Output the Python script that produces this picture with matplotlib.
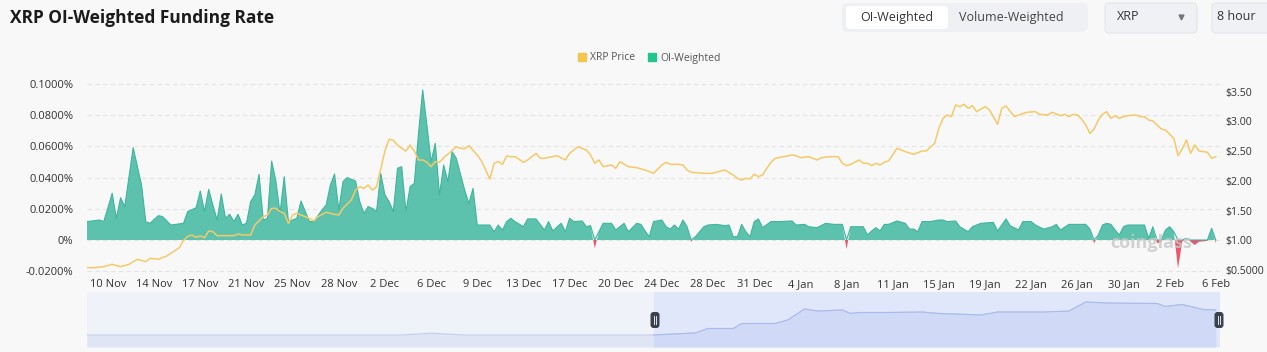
import numpy as np
import matplotlib
matplotlib.use("Agg")
import matplotlib.pyplot as plt
from matplotlib.patches import FancyBboxPatch, Patch

plt.rcParams['font.family'] = ['Open Sans', 'DejaVu Sans']

# ---------------- data (8-hour periods since start) ----------------
tick_idx = list(range(5, 270, 11))
tick_labels = ['10 Nov', '14 Nov', '17 Nov', '21 Nov', '25 Nov', '28 Nov', '2 Dec', '6 Dec',
               '9 Dec', '13 Dec', '17 Dec', '20 Dec', '24 Dec', '28 Dec', '31 Dec', '4 Jan',
               '8 Jan', '11 Jan', '15 Jan', '19 Jan', '22 Jan', '26 Jan', '30 Jan', '2 Feb', '6 Feb']

# OI-weighted funding rate (%)
fund_idx = [0, 3, 4, 6, 7, 8, 9, 11, 13, 14, 15, 17, 18, 20, 23, 24, 26, 27, 28, 29,
            30, 31, 32, 33, 34, 35, 36, 37, 38, 39, 40, 41, 42, 43, 44, 45, 46, 47, 48, 50,
            51, 53, 54, 56, 57, 58, 59, 60, 61, 62, 64, 65, 66, 67, 68, 69, 70, 71, 72, 73,
            74, 75, 76, 77, 78, 79, 80, 81, 82, 83, 84, 85, 86, 87, 88, 90, 91, 92, 93, 96,
            97, 98, 99, 100, 101, 102, 104, 105, 107, 109, 110, 111, 113, 114, 115, 116, 118, 119, 120, 121,
            122, 123, 125, 126, 128, 129, 131, 132, 133, 134, 135, 137, 138, 139, 140, 141, 142, 143, 144, 145,
            147, 148, 150, 152, 153, 154, 155, 156, 157, 158, 159, 160, 161, 163, 165, 168, 169, 171, 172, 174,
            176, 178, 180, 181, 182, 185, 186, 187, 188, 189, 190, 191, 193, 195, 196, 197, 198, 199, 201, 203,
            204, 205, 207, 208, 210, 211, 213, 216, 217, 219, 220, 222, 223, 225, 226, 228, 230, 231, 232, 234,
            238, 239, 240, 241, 242, 243, 244, 245, 246, 247, 248, 252, 253, 254, 255, 256, 257, 258, 259, 260,
            261, 262, 263, 264, 265, 267, 268, 269]
fund_val = [0.0118, 0.0128, 0.0118, 0.0299, 0.0139, 0.0271, 0.0214, 0.0592, 0.0353, 0.0118,
            0.0107, 0.0156, 0.0150, 0.0096, 0.0107, 0.0182, 0.0207, 0.0314, 0.0182, 0.0325,
            0.0224, 0.0128, 0.0295, 0.0139, 0.0165, 0.0118, 0.0165, 0.0096, 0.0107, 0.0246,
            0.0289, 0.0421, 0.0128, 0.0139, 0.0506, 0.0380, 0.0171, 0.0406, 0.0118, 0.0139,
            0.0250, 0.0118, 0.0118, 0.0192, 0.0224, 0.0353, 0.0423, 0.0192, 0.0374, 0.0400,
            0.0378, 0.0246, 0.0171, 0.0214, 0.0203, 0.0182, 0.0427, 0.0288, 0.0246, 0.0182,
            0.0460, 0.0470, 0.0182, 0.0342, 0.0363, 0.0684, 0.0962, 0.0737, 0.0502, 0.0620,
            0.0288, 0.0481, 0.0374, 0.0566, 0.0524, 0.0320, 0.0235, 0.0331, 0.0096, 0.0096,
            0.0053, 0.0096, 0.0064, 0.0118, 0.0139, 0.0118, 0.0085, 0.0135, 0.0135, 0.0064,
            0.0118, 0.0058, 0.0107, 0.0053, 0.0139, 0.0118, 0.0122, 0.0085, 0.0092, -0.0053,
            0.0053, 0.0107, 0.0107, 0.0064, 0.0107, 0.0053, 0.0107, 0.0100, 0.0058, 0.0021,
            0.0118, 0.0128, 0.0085, 0.0070, 0.0096, 0.0070, 0.0128, 0.0085, -0.0011, 0.0021,
            0.0085, 0.0096, 0.0100, 0.0092, 0.0096, 0.0021, 0.0021, 0.0100, 0.0053, 0.0021,
            0.0118, 0.0135, 0.0079, 0.0118, 0.0118, 0.0122, 0.0096, 0.0100, 0.0085, 0.0079,
            0.0107, 0.0100, 0.0100, -0.0058, 0.0085, 0.0085, 0.0032, 0.0058, 0.0079, 0.0058,
            0.0100, 0.0100, 0.0122, 0.0107, 0.0070, 0.0070, 0.0053, 0.0118, 0.0118, 0.0128,
            0.0128, 0.0118, 0.0122, 0.0085, 0.0053, 0.0085, 0.0107, 0.0113, 0.0058, 0.0135,
            0.0092, 0.0064, 0.0118, 0.0118, 0.0096, 0.0070, 0.0085, 0.0100, 0.0064, 0.0100,
            0.0100, 0.0070, -0.0021, 0.0032, 0.0096, 0.0107, 0.0100, 0.0064, 0.0032, 0.0085,
            0.0096, 0.0096, 0.0011, 0.0085, -0.0021, -0.0011, 0.0064, 0.0085, 0.0053, -0.0182,
            -0.0010, 0.0011, -0.0011, -0.0032, -0.0011, -0.0006, 0.0075, -0.0021]

# XRP price ($)
price_idx = [0, 2, 4, 6, 8, 10, 12, 14, 15, 17, 19, 20, 22, 23, 24, 25, 26, 27, 28, 29,
             30, 31, 35, 36, 37, 39, 40, 42, 43, 44, 45, 46, 47, 48, 49, 50, 52, 53, 54, 55,
             57, 59, 60, 61, 63, 64, 65, 66, 67, 68, 69, 70, 71, 72, 73, 74, 75, 76, 77, 78,
             79, 80, 81, 82, 83, 84, 85, 86, 88, 89, 90, 91, 93, 94, 95, 96, 97, 98, 99, 100,
             101, 102, 104, 105, 107, 108, 109, 112, 114, 115, 117, 119, 120, 121, 122, 123, 125, 126, 127, 129,
             131, 133, 135, 137, 138, 139, 141, 142, 143, 144, 147, 149, 151, 152, 154, 155, 156, 157, 158, 159,
             160, 161, 162, 163, 164, 166, 168, 169, 170, 172, 174, 175, 177, 179, 180, 181, 182, 184, 185, 186,
             187, 188, 189, 190, 191, 193, 194, 195, 197, 199, 200, 202, 203, 204, 205, 206, 207, 208, 209, 210,
             211, 212, 214, 215, 217, 218, 219, 221, 222, 224, 226, 227, 229, 230, 232, 233, 234, 235, 236, 237,
             238, 239, 240, 241, 242, 243, 244, 245, 246, 247, 248, 250, 251, 252, 253, 254, 256, 257, 259, 260,
             261, 262, 263, 264, 265, 267, 268, 269]
price_val = [0.544, 0.544, 0.561, 0.600, 0.561, 0.600, 0.684, 0.645, 0.701, 0.684,
             0.740, 0.785, 0.880, 1.000, 1.070, 1.092, 1.053, 1.076, 1.047, 1.159,
             1.148, 1.081, 1.081, 1.109, 1.092, 1.092, 1.260, 1.400, 1.428, 1.540,
             1.540, 1.484, 1.456, 1.288, 1.428, 1.456, 1.400, 1.372, 1.327, 1.400,
             1.473, 1.439, 1.428, 1.540, 1.680, 1.847, 1.903, 1.875, 1.931, 1.847,
             1.900, 2.200, 2.500, 2.700, 2.680, 2.600, 2.547, 2.502, 2.602, 2.502,
             2.351, 2.351, 2.312, 2.239, 2.323, 2.312, 2.390, 2.446, 2.574, 2.547,
             2.540, 2.591, 2.435, 2.334, 2.180, 2.030, 2.295, 2.323, 2.278, 2.418,
             2.407, 2.407, 2.312, 2.351, 2.463, 2.379, 2.379, 2.423, 2.351, 2.463,
             2.574, 2.519, 2.435, 2.295, 2.351, 2.239, 2.267, 2.211, 2.323, 2.239,
             2.222, 2.183, 2.127, 2.267, 2.312, 2.278, 2.278, 2.267, 2.183, 2.144,
             2.127, 2.127, 2.166, 2.183, 2.099, 2.043, 2.015, 2.043, 2.032, 2.110,
             2.071, 2.099, 2.211, 2.312, 2.379, 2.407, 2.435, 2.423, 2.390, 2.407,
             2.351, 2.390, 2.407, 2.407, 2.295, 2.256, 2.278, 2.351, 2.295, 2.295,
             2.256, 2.295, 2.267, 2.312, 2.334, 2.547, 2.519, 2.491, 2.446, 2.502,
             2.502, 2.631, 2.882, 3.050, 3.106, 3.078, 3.274, 3.246, 3.285, 3.218,
             3.262, 3.162, 3.246, 3.200, 2.949, 3.218, 3.257, 3.078, 3.106, 3.151,
             3.162, 3.117, 3.106, 3.151, 3.095, 3.117, 3.078, 3.117, 3.106, 3.039,
             2.938, 2.798, 2.871, 3.022, 3.117, 3.162, 3.050, 3.095, 3.050, 3.078,
             3.095, 3.106, 3.078, 3.078, 3.022, 3.005, 2.871, 2.854, 2.714, 2.423,
             2.535, 2.686, 2.463, 2.602, 2.502, 2.480, 2.379, 2.407]

# data-zoom slider background series (relative level)
slider_idx = [0, 75, 82, 90, 135, 145, 148, 154, 156, 164, 167, 171, 174, 180, 182, 184, 191,
              199, 203, 210, 213, 217, 228, 234, 238, 243, 255, 257, 261, 266, 269]
slider_lvl = [0, 0, 1.8, 0, 0, 2, 6.5, 6.5, 11.5, 11.5, 15, 26, 24, 25, 21.5, 22.5, 22.5,
              23, 21.5, 20.5, 20, 23, 23, 24, 33, 32, 31.5, 28.5, 30.5, 25.5, 25]
zoom_start, zoom_end = 135, 270

left_ticks = [-0.02, 0, 0.02, 0.04, 0.06, 0.08, 0.10]
left_labels = ['-0.0200%', '0%', '0.0200%', '0.0400%', '0.0600%', '0.0800%', '0.1000%']
right_ticks = [0.5, 1.0, 1.5, 2.0, 2.5, 3.0, 3.5]
right_labels = ['$0.5000', '$1.00', '$1.50', '$2.00', '$2.50', '$3.00', '$3.50']

# ---------------- figure ----------------
W, H = 1267, 352
bg = '#f8f8f8'
fig = plt.figure(figsize=(W / 100, H / 100), dpi=100, facecolor=bg)

def box(x0, y0, x1, y1):
    return [x0 / W, 1 - y1 / H, (x1 - x0) / W, (y1 - y0) / H]

# overlay for header widgets (pixel coordinates)
ov = fig.add_axes([0, 0, 1, 1], zorder=0)
ov.set_xlim(0, W)
ov.set_ylim(H, 0)
ov.axis('off')

ov.text(10, 18, 'XRP OI-Weighted Funding Rate', fontsize=12.5, fontweight='bold',
        color='#1b1b1b', va='center', ha='left')
ov.add_patch(FancyBboxPatch((842, 3), 246, 29, boxstyle='round,pad=0,rounding_size=6',
                            fc='#eef0f3', ec='none'))
ov.add_patch(FancyBboxPatch((846, 6), 102, 23, boxstyle='round,pad=0,rounding_size=4',
                            fc='white', ec='none'))
ov.text(897, 17, 'OI-Weighted', fontsize=9, color='#333333', ha='center', va='center')
ov.text(1011, 17, 'Volume-Weighted', fontsize=9, color='#444444', ha='center', va='center')
ov.add_patch(FancyBboxPatch((1105, 3), 92, 30, boxstyle='round,pad=0,rounding_size=4',
                            fc='#eff1f4', ec='#e4e6ea', lw=0.8))
ov.text(1117, 17, 'XRP', fontsize=9, color='#333333', ha='left', va='center')
ov.plot([1181], [17], marker='v', ms=3.5, color='#777777')
ov.add_patch(FancyBboxPatch((1212, 3), 70, 30, boxstyle='round,pad=0,rounding_size=4',
                            fc='#eff1f4', ec='#e4e6ea', lw=0.8))
ov.text(1217, 17, '8 hour', fontsize=9, color='#333333', ha='left', va='center')

# ---------------- main chart ----------------
ax = fig.add_axes(box(87, 75, 1220, 275), zorder=2)
ax.set_facecolor('none')
ax.set_xlim(0, 270)
ax.set_ylim(-0.02244, 0.10577)

fx = np.array(fund_idx)
fv = np.array(fund_val)
ax.fill_between(fx, fv, 0, where=fv >= 0, interpolate=True, color='#5dc2ad', lw=0)
ax.fill_between(fx, fv, 0, where=fv < 0, interpolate=True, color='#f05468', lw=0)
ax.plot(fx, np.where(fv >= 0, fv, 0), color='#3fb59d', lw=0.8)

ax.set_yticks(left_ticks)
ax.set_yticklabels(left_labels)
ax.set_xticks(tick_idx)
ax.set_xticklabels(tick_labels)
ax.tick_params(axis='y', length=0, pad=10, labelsize=8, labelcolor='#333333')
ax.tick_params(axis='x', length=0, pad=3, labelsize=8, labelcolor='#333333')
ax.grid(axis='y', color='#e4e4e4', ls=(0, (4, 3)), lw=0.8)
ax.set_axisbelow(True)
for s in ax.spines.values():
    s.set_visible(False)

ax2 = ax.twinx()
ax2.plot(price_idx, price_val, color='#f5c968', lw=1.1)
ax2.set_ylim(0.421, 3.777)
ax2.set_yticks(right_ticks)
ax2.set_yticklabels(right_labels)
ax2.tick_params(axis='y', length=0, pad=4, labelsize=7.6, labelcolor='#333333')
for s in ax2.spines.values():
    s.set_visible(False)

# watermark
ax.text(0.975, 0.16, 'coinglass', transform=ax.transAxes, fontsize=13, fontweight='bold',
        color='#c8c8c8', alpha=0.8, ha='right', va='center')

# legend
fig.legend(handles=[Patch(color='#f5c451', label='XRP Price'),
                    Patch(color='#22c58e', label='OI-Weighted')],
           loc='center', bbox_to_anchor=(649 / W, 1 - 58 / H), ncol=2, frameon=False,
           fontsize=7.5, handlelength=0.8, handleheight=0.8, handletextpad=0.4,
           columnspacing=1.2, labelcolor='#555555')

# ---------------- data zoom slider ----------------
sl = fig.add_axes(box(87, 292, 1220, 347), zorder=1)
sl.set_facecolor('#eff2f8')
sl.set_xlim(0, 270)
sl.set_ylim(-12, 43)
sl.axis('off')
sl.axvspan(0, 270, color='#eff2f8', lw=0)
sl.axvspan(zoom_start, zoom_end, color='#e1e7fa', lw=0)
sx = np.array(slider_idx)
sv = np.array(slider_lvl)
sl.fill_between(sx, sv, -12, color='#dfe5f4', lw=0)
sl.plot(sx, sv, color='#c3cdea', lw=0.8)
m = sx >= zoom_start
sl.fill_between(sx[m], sv[m], -12, color='#d0daf7', lw=0)
sl.plot(sx[m], sv[m], color='#a9bbee', lw=0.8)

for hx in (655, 1219):
    ov.add_patch(FancyBboxPatch((hx - 4.5, 312), 9, 16, boxstyle='round,pad=0,rounding_size=3',
                                fc='#3c4150', ec='none', zorder=5))
    ov.plot([hx - 1, hx - 1], [316, 324], color='white', lw=0.6, zorder=6)
    ov.plot([hx + 1, hx + 1], [316, 324], color='white', lw=0.6, zorder=6)
ov.set_zorder(3)
ov.patch.set_alpha(0)

fig.savefig('out.png', dpi=100, facecolor=bg)
